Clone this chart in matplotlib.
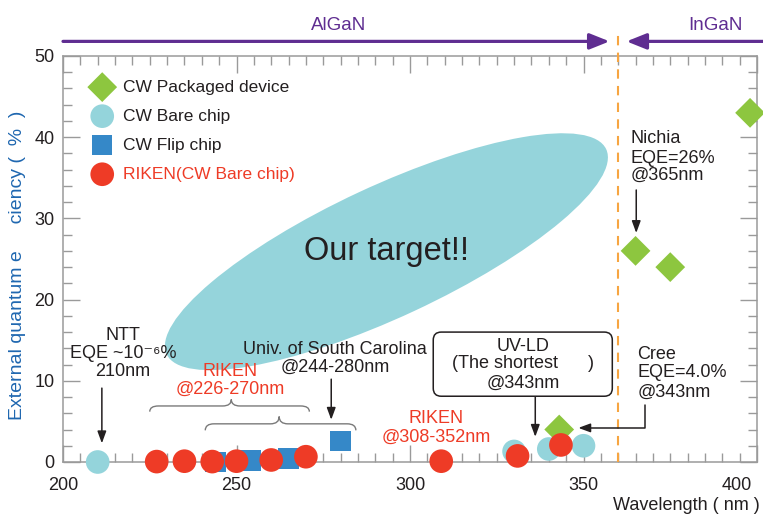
import matplotlib
matplotlib.use("Agg")
import matplotlib.pyplot as plt
from matplotlib.patches import Ellipse, FancyBboxPatch, PathPatch
from matplotlib.path import Path
from matplotlib.transforms import ScaledTranslation

plt.rcParams['font.family'] = ['Liberation Sans', 'DejaVu Sans']

# ---------------- data ----------------
pkg_x = [343, 365, 375, 398]
pkg_y = [4.0, 26.0, 24.0, 43.0]
bare_x = [210, 330, 340, 350]
bare_y = [0.0, 1.3, 1.6, 2.0]
flip_x = [244, 254, 265, 280]
flip_y = [0.0, 0.2, 0.45, 2.6]
riken_x = [227, 235, 243, 250, 260, 270, 309, 331, 343.5]
riken_y = [0.05, 0.1, 0.05, 0.1, 0.25, 0.65, 0.1, 0.75, 2.1]

series_labels = ["CW Packaged device", "CW Bare chip", "CW Flip chip", "RIKEN(CW Bare chip)"]
x_ticks = [200, 250, 300, 350, 400]
y_ticks = [0, 10, 20, 30, 40, 50]
boundary_nm = 360

# ---------------- style ----------------
GREEN = "#8dc63f"
CYAN = "#94d4db"
BLUE = "#3588c8"
RED = "#ee3b26"
DARK = "#231f20"
PURPLE = "#5f2d91"
ORANGE = "#f7a541"
GRAY = "#9a9a9a"
YLBL = "#1f67b0"

fig = plt.figure(figsize=(7.63, 5.18), dpi=100)
ax = fig.add_axes([63/763, 1-462/518, 694/763, 406/518])
ax.set_xlim(200, 400)
ax.set_ylim(0, 50)

for sp in ax.spines.values():
    sp.set_color(GRAY)
    sp.set_linewidth(1.1)

ax.set_xticks(x_ticks)
ax.set_yticks(y_ticks)
ax.set_xticks(range(200, 401, 5), minor=True)
ax.set_yticks(range(0, 51, 2), minor=True)
ax.tick_params(which='both', direction='in', top=True, right=True, color=GRAY, width=1.0,
               labelcolor=DARK, labelsize=13)
ax.tick_params(which='major', length=12)
ax.tick_params(which='minor', length=6.5)
ax.tick_params(axis='x', which='major', pad=11)
ax.tick_params(axis='y', which='major', pad=6)

# ellipse "Our target!!" (size in inches, centered in data)
ell_tr = fig.dpi_scale_trans + ScaledTranslation(293.2, 25.9, ax.transData)
ax.add_patch(Ellipse((0, 0), 4.85, 1.31, angle=25, transform=ell_tr,
                     facecolor="#95d4db", edgecolor='none', zorder=1))
ax.text(293.2, 25.9, "Our target!!", fontsize=23.5, color=DARK, ha='center', va='center', zorder=2)

# scatter series
ms = dict(clip_on=False, edgecolors='none')
h_bare = ax.scatter(bare_x, bare_y, s=290, marker='o', color=CYAN, zorder=4, **ms)
h_flip = ax.scatter(flip_x, flip_y, s=215, marker='s', color=BLUE, zorder=5, **ms)
h_pkg = ax.scatter(pkg_x, pkg_y, s=230, marker='D', color=GREEN, zorder=6, **ms)
h_riken = ax.scatter(riken_x, riken_y, s=290, marker='o', color=RED, zorder=7, **ms)

leg = ax.legend([h_pkg, h_bare, h_flip, h_riken], series_labels, loc='upper left',
                bbox_to_anchor=(0.024, 0.972), frameon=False, fontsize=12.5,
                handlelength=1.2, handletextpad=0.6, labelspacing=0.8, borderaxespad=0.3)
for t in leg.get_texts():
    t.set_color(DARK)
leg.get_texts()[-1].set_color(RED)

# top region arrows
arrow_kw = dict(arrowstyle='-|>,head_length=1.0,head_width=0.4', color=PURPLE, lw=2.3,
                mutation_scale=12, shrinkA=0, shrinkB=0)
ax.annotate('', xy=(357.5, 51.8), xytext=(200, 51.8), arrowprops=arrow_kw, annotation_clip=False)
ax.annotate('', xy=(362.4, 51.8), xytext=(402, 51.8), arrowprops=arrow_kw, annotation_clip=False)
ax.text(279.3, 53.8, "AlGaN", color=PURPLE, fontsize=13.5, ha='center', va='center', clip_on=False)
ax.text(388, 53.8, "InGaN", color=PURPLE, fontsize=13.5, ha='center', va='center', clip_on=False)
ax.plot([boundary_nm, boundary_nm], [0, 52.8], color=ORANGE, lw=1.5, ls=(0, (4.5, 3.5)),
        clip_on=False, zorder=3)

# annotations
FS = 13
blk_arrow = dict(arrowstyle='-|>,head_length=0.6,head_width=0.22', color=DARK, lw=1.1,
                 mutation_scale=12, shrinkA=0, shrinkB=0)

def txt(x, y, s, color=DARK, ha='center'):
    ax.text(x, y, s, fontsize=FS, color=color, ha=ha, va='center', zorder=8)

# NTT
txt(217.3, 15.6, "NTT")
txt(217.3, 13.4, "EQE ~10\u207b\u2076%")
txt(217.3, 11.1, "210nm")
ax.annotate('', xy=(211.2, 2.3), xytext=(211.2, 9.1), arrowprops=blk_arrow)

# RIKEN 226-270
txt(248.2, 11.1, "RIKEN", RED)
txt(248.2, 8.9, "@226-270nm", RED)

# USC
txt(278.4, 13.8, "Univ. of South Carolina")
txt(278.4, 11.7, "@244-280nm")
ax.annotate('', xy=(277.3, 5.2), xytext=(277.3, 10.2), arrowprops=blk_arrow)

# RIKEN 308-352
txt(307.6, 5.4, "RIKEN", RED)
txt(307.6, 3.1, "@308-352nm", RED)

# braces
def brace(x0, x1, xm, yb, yh, yt, dx=2.5):
    verts = [(x0, yb), (x0, yh), (x0 + dx, yh), (xm - dx, yh), (xm, yh), (xm, yt),
             (xm, yh), (xm + dx, yh), (x1 - dx, yh), (x1, yh), (x1, yb)]
    codes = [Path.MOVETO, Path.CURVE3, Path.CURVE3, Path.LINETO, Path.CURVE3, Path.CURVE3,
             Path.CURVE3, Path.CURVE3, Path.LINETO, Path.CURVE3, Path.CURVE3]
    ax.add_patch(PathPatch(Path(verts, codes), facecolor='none', edgecolor='#7a7a7a', lw=1.0, zorder=3))

brace(225, 271, 248.5, 6.2, 6.9, 7.7)
brace(241, 284.4, 262.3, 3.9, 4.7, 5.6)

# UV-LD box
box = FancyBboxPatch((306.7, 8.1), 51.6, 7.9, boxstyle="round,pad=0,rounding_size=2.3",
                     mutation_aspect=0.427, facecolor='white', edgecolor=DARK, lw=1.1, zorder=8)
ax.add_patch(box)
txt(332.7, 14.2, "UV-LD")
txt(332.7, 12.1, "(The shortest      )")
txt(332.7, 9.7, "@343nm")
ax.annotate('', xy=(336.1, 3.1), xytext=(336.1, 8.1), arrowprops=blk_arrow)

# Cree
txt(365.5, 13.2, "Cree", ha='left')
txt(365.5, 11.0, "EQE=4.0%", ha='left')
txt(365.5, 8.6, "@343nm", ha='left')
cree_arrow = dict(blk_arrow, connectionstyle='angle,angleA=90,angleB=0,rad=0')
ax.annotate('', xy=(348.5, 4.2), xytext=(367.6, 7.0), arrowprops=cree_arrow)

# Nichia
txt(363.5, 39.8, "Nichia", ha='left')
txt(363.5, 37.4, "EQE=26%", ha='left')
txt(363.5, 35.3, "@365nm", ha='left')
ax.annotate('', xy=(365.2, 28.2), xytext=(365.2, 33.5), arrowprops=blk_arrow)

# axis labels
fig.text(18/763, 1-265/518, "External quantum e     ciency (  %  )", rotation=90, fontsize=14,
         color=YLBL, ha='center', va='center')
fig.text(760/763, 1-505/518, "Wavelength ( nm )", fontsize=13, color=DARK, ha='right', va='center')

# shift last x tick label left (as in reference)
lbls = ax.get_xticklabels()
off = ScaledTranslation(-0.2, 0, fig.dpi_scale_trans)
lbls[-1].set_transform(lbls[-1].get_transform() + off)

fig.savefig("out.png", dpi=100)
